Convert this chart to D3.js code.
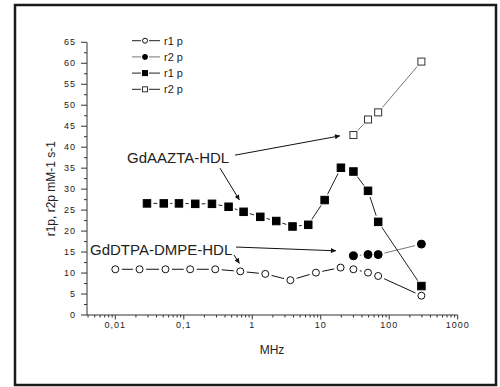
<!DOCTYPE html>
<html>
<head>
<meta charset="utf-8">
<script src="https://cdn.jsdelivr.net/npm/d3@7"></script>
<style>
  body { margin: 0; background: #fff; }
  text { font-family: "Liberation Sans", Arial, sans-serif; }
</style>
</head>
<body>
<svg id="chart" width="500" height="387"></svg>
<script>
// frequencies (MHz) and relaxivities
const freqDTPA = [0.01, 0.0226, 0.054, 0.124, 0.288, 0.668, 1.55, 3.6, 8.5, 19.5, 30, 49, 69, 295];
const r1pDTPA = [10.9, 10.9, 10.9, 10.9, 10.9, 10.4, 9.8, 8.3, 10.1, 11.3, 10.9, 10.1, 9.3, 4.6];
const freqAAZTA = [0.029, 0.051, 0.085, 0.147, 0.258, 0.451, 0.747, 1.31, 2.24, 3.87, 6.57, 11.4, 19.7, 30, 49, 69, 295];
const r1pAAZTA = [26.6, 26.6, 26.6, 26.5, 26.5, 25.8, 24.6, 23.4, 22.4, 21.1, 21.5, 27.4, 35.1, 34.2, 29.6, 22.2, 6.9];
const freqHigh = [30, 49, 69, 295];
const r2pDTPA = [14.1, 14.4, 14.4, 16.9];
const r2pAAZTA = [42.9, 46.6, 48.3, 60.4];

const yTicks = d3.range(0, 66, 5);
const xTicks = [0.01, 0.1, 1, 10, 100, 1000];
const xTickLabels = ["0,01", "0,1", "1", "10", "100", "1000"];
const legendLabels = ["r1 p", "r2 p", "r1 p", "r2 p"];

const svg = d3.select("#chart");

// outer frame
svg.append("rect")
  .attr("x", 15).attr("y", 5).attr("width", 481).attr("height", 380)
  .attr("fill", "none").attr("stroke", "#1a1a1a").attr("stroke-width", 2.5);

const x = d3.scaleLog().domain([0.00386, 1000]).range([87, 457.7]);
const y = d3.scaleLinear().domain([0, 65]).range([315, 42.3]);

const axisColor = "#333";

// Y axis
const yMinor = d3.range(0, 65.1, 2.5);
const yAx = svg.append("g").attr("transform", `translate(${x.range()[0]},0)`);
yAx.append("line").attr("y1", y(0)).attr("y2", y(65)).attr("stroke", axisColor);
yAx.selectAll(".ymin").data(yMinor).join("line")
  .attr("x1", d => (d % 5 === 0 ? -6 : -3)).attr("x2", 0)
  .attr("y1", d => y(d)).attr("y2", d => y(d))
  .attr("stroke", axisColor);
yAx.selectAll(".ylab").data(yTicks).join("text")
  .attr("x", -11).attr("y", d => y(d)).attr("dy", "0.35em")
  .attr("text-anchor", "end").attr("font-size", 9).attr("letter-spacing", 1)
  .attr("fill", "#222").text(d => d);

// X axis
const xMinor = [];
for (let e = -3; e < 3; e++) {
  for (let m = 1; m < 10; m++) {
    const v = m * Math.pow(10, e);
    if (v >= x.domain()[0] && v <= 1000) xMinor.push(v);
  }
}
xMinor.push(1000);
const xAx = svg.append("g").attr("transform", `translate(0,${y(0)})`);
xAx.append("line").attr("x1", x.range()[0]).attr("x2", x.range()[1]).attr("stroke", axisColor);
xAx.selectAll(".xmin").data(xMinor).join("line")
  .attr("x1", d => x(d)).attr("x2", d => x(d))
  .attr("y1", 0).attr("y2", d => (xTicks.some(t => Math.abs(t - d) / t < 1e-9) ? 4.5 : 2.5))
  .attr("stroke", axisColor);
xAx.selectAll(".xlab").data(xTicks).join("text")
  .attr("x", (d, i) => x(d)).attr("y", 13)
  .attr("text-anchor", "middle").attr("font-size", 9).attr("letter-spacing", 1)
  .attr("fill", "#222").text((d, i) => xTickLabels[i]);

// axis titles
svg.append("text")
  .attr("x", (x.range()[0] + x.range()[1]) / 2 + 0).attr("y", 354)
  .attr("transform", "translate(0,0)")
  .attr("text-anchor", "middle").attr("font-size", 12).attr("fill", "#222")
  .attr("dx", 0)
  .text("MHz")
  .attr("x", 272);
svg.append("text")
  .attr("transform", `translate(55,${(y(0) + y(65)) / 2 + 10}) rotate(-90)`)
  .attr("text-anchor", "middle").attr("font-size", 12).attr("fill", "#222")
  .text("r1p, r2p mM-1 s-1");

// series
const series = [
  { xs: freqDTPA, ys: r1pDTPA, shape: "circle", fill: "#fff", stroke: "#111", line: "#111" },
  { xs: freqHigh, ys: r2pDTPA, shape: "circle", fill: "#000", stroke: "#000", line: "#777" },
  { xs: freqAAZTA, ys: r1pAAZTA, shape: "square", fill: "#000", stroke: "#000", line: "#222" },
  { xs: freqHigh, ys: r2pAAZTA, shape: "square", fill: "#fff", stroke: "#333", line: "#777" }
];

const gap = 6.5;
function drawMarker(g, shape, cx, cy, size, fill, stroke) {
  if (shape === "circle") {
    g.append("circle").attr("cx", cx).attr("cy", cy).attr("r", size / 2)
      .attr("fill", fill).attr("stroke", stroke).attr("stroke-width", 1);
  } else {
    g.append("rect").attr("x", cx - size / 2).attr("y", cy - size / 2)
      .attr("width", size).attr("height", size)
      .attr("fill", fill).attr("stroke", stroke).attr("stroke-width", 1);
  }
}

const plot = svg.append("g");
series.forEach(s => {
  const pts = s.xs.map((f, i) => [x(f), y(s.ys[i])]);
  for (let i = 0; i < pts.length - 1; i++) {
    const [x1, y1] = pts[i], [x2, y2] = pts[i + 1];
    const len = Math.hypot(x2 - x1, y2 - y1);
    if (len <= 2 * gap) continue;
    const ux = (x2 - x1) / len, uy = (y2 - y1) / len;
    plot.append("line")
      .attr("x1", x1 + ux * gap).attr("y1", y1 + uy * gap)
      .attr("x2", x2 - ux * gap).attr("y2", y2 - uy * gap)
      .attr("stroke", s.line).attr("stroke-width", 1);
  }
});
series.forEach(s => {
  s.xs.forEach((f, i) => {
    const size = s.shape === "circle" ? (s.fill === "#000" ? 8 : 7) : (s.fill === "#000" ? 7.5 : 7);
    drawMarker(plot, s.shape, x(f), y(s.ys[i]), size, s.fill, s.stroke);
  });
});

// legend
const legend = svg.append("g");
series.forEach((s, i) => {
  const ly = 40.7 + i * 16.2;
  legend.append("line").attr("x1", 132).attr("x2", 141).attr("y1", ly).attr("y2", ly)
    .attr("stroke", s.line === "#777" && s.shape === "circle" ? "#777" : "#222");
  legend.append("line").attr("x1", 149).attr("x2", 160).attr("y1", ly).attr("y2", ly)
    .attr("stroke", s.line === "#777" && s.shape === "circle" ? "#777" : "#222");
  drawMarker(legend, s.shape, 145, ly, s.shape === "circle" ? 5 : 5, s.fill, s.stroke);
  legend.append("text").attr("x", 164).attr("y", ly).attr("dy", "0.35em")
    .attr("font-size", 11).attr("fill", "#222").text(legendLabels[i]);
});

// annotations (data coordinates)
const annoTexts = [
  { label: "GdAAZTA-HDL", f: 0.0148, v: 36.3 },
  { label: "GdDTPA-DMPE-HDL", f: 0.00427, v: 14.3 }
];
const annoArrows = [
  { f1: 0.56, v1: 38.1, f2: 19.1, v2: 42.7 },
  { f1: 0.338, v1: 35.0, f2: 0.65, v2: 27.4 },
  { f1: 0.579, v1: 16.2, f2: 16.7, v2: 15.3 },
  { f1: 0.54, v1: 14.3, f2: 0.65, v2: 12.3 }
];

svg.append("defs").append("marker")
  .attr("id", "arrow").attr("viewBox", "0 0 10 10")
  .attr("refX", 10).attr("refY", 5)
  .attr("markerWidth", 7).attr("markerHeight", 5)
  .attr("markerUnits", "userSpaceOnUse")
  .attr("orient", "auto")
  .append("path").attr("d", "M0,0 L10,5 L0,10 z").attr("fill", "#111");

svg.selectAll(".anno-text").data(annoTexts).join("text")
  .attr("x", d => x(d.f)).attr("y", d => y(d.v))
  .attr("font-size", 15).attr("fill", "#222").text(d => d.label);

svg.selectAll(".anno-arrow").data(annoArrows).join("line")
  .attr("x1", d => x(d.f1)).attr("y1", d => y(d.v1))
  .attr("x2", d => x(d.f2)).attr("y2", d => y(d.v2))
  .attr("stroke", "#111").attr("stroke-width", 1)
  .attr("marker-end", "url(#arrow)");
</script>
</body>
</html>
